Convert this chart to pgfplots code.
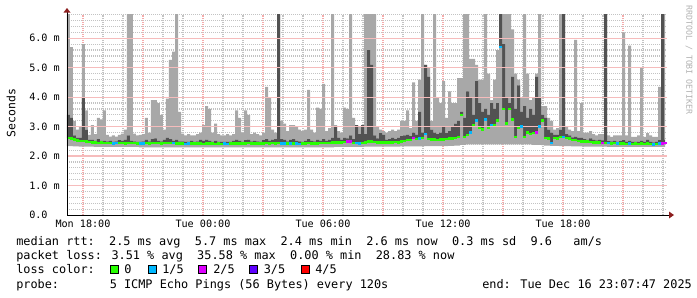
\documentclass[border=0pt]{standalone}
\usepackage{fontspec}
\setmainfont{DejaVu Sans Mono}
\usepackage{pgfplots}
\pgfplotsset{compat=1.18}
\usepackage{pgfplotstable}

\definecolor{mgrid}{RGB}{244,170,170}
\definecolor{hgrid}{RGB}{246,188,188}
\definecolor{ngrid}{RGB}{195,195,195}
\definecolor{smokeL}{RGB}{168,168,168}
\definecolor{smokeD}{RGB}{82,82,82}
\definecolor{lzero}{RGB}{38,255,0}
\definecolor{lone}{RGB}{0,184,255}
\definecolor{ltwo}{RGB}{221,0,255}
\definecolor{lthree}{RGB}{94,0,255}
\definecolor{lfour}{RGB}{255,0,0}
\definecolor{arr}{RGB}{140,30,30}
\newcommand\legfont{\fontsize{8.9}{10.8}\selectfont}
\newcommand\tickfont{\fontsize{7.6}{9}\selectfont}

\pgfplotstableread{
x lo dh hi md ls
17.20 2.34 3.40 6.90 2.62 0
17.35 2.34 3.30 5.70 2.60 0
17.50 2.33 2.70 3.20 2.56 0
17.65 2.33 2.62 2.90 2.53 0
17.80 2.32 2.62 3.00 2.52 0
17.95 2.32 4.00 5.80 2.52 0
18.10 2.32 2.90 3.55 2.49 0
18.25 2.32 2.55 2.72 2.48 0
18.40 2.32 2.55 3.05 2.47 0
18.55 2.31 2.52 2.75 2.46 0
18.70 2.31 2.58 3.30 2.45 0
18.85 2.31 2.52 3.25 2.46 0
19.00 2.31 2.52 3.55 2.44 0
19.15 2.31 2.50 2.72 2.45 0
19.30 2.31 2.52 2.66 2.44 0
19.45 2.31 2.49 2.70 2.43 1
19.60 2.31 2.50 2.66 2.44 1
19.75 2.31 2.54 2.72 2.45 0
19.90 2.31 2.52 2.76 2.44 0
20.05 2.31 2.55 2.90 2.43 0
20.20 2.31 2.70 6.90 2.44 0
20.35 2.31 2.52 6.90 2.45 0
20.50 2.31 2.50 2.76 2.44 0
20.65 2.31 2.49 2.70 2.43 0
20.80 2.30 2.49 2.72 2.42 1
20.95 2.30 2.50 2.75 2.43 1
21.10 2.30 2.55 3.30 2.44 0
21.25 2.30 2.50 2.80 2.43 0
21.40 2.30 2.58 3.90 2.44 0
21.55 2.30 2.60 3.90 2.45 0
21.70 2.30 2.52 3.80 2.44 0
21.85 2.30 2.50 3.40 2.43 0
22.00 2.30 2.55 2.90 2.44 0
22.15 2.30 2.62 3.95 2.45 0
22.30 2.30 2.58 5.27 2.44 0
22.45 2.30 2.52 5.55 2.44 1
22.60 2.30 2.55 6.90 2.43 0
22.75 2.30 2.50 3.50 2.42 0
22.90 2.30 2.50 2.76 2.43 0
23.05 2.30 2.48 2.70 2.41 1
23.20 2.30 2.49 2.75 2.42 1
23.35 2.30 2.52 2.70 2.43 0
23.50 2.30 2.49 2.70 2.42 0
23.65 2.30 2.50 2.75 2.43 0
23.80 2.30 2.55 2.80 2.42 0
23.95 2.30 2.52 3.05 2.41 0
24.10 2.30 2.56 3.70 2.42 0
24.25 2.30 2.52 3.60 2.43 0
24.40 2.30 2.49 2.80 2.42 0
24.55 2.30 2.52 3.10 2.41 0
24.70 2.30 2.49 2.75 2.42 0
24.85 2.30 2.48 2.70 2.41 0
25.00 2.30 2.49 2.70 2.42 1
25.15 2.30 2.48 2.75 2.41 1
25.30 2.30 2.49 2.70 2.42 0
25.45 2.30 2.52 2.75 2.43 0
25.60 2.30 2.56 3.55 2.42 0
25.75 2.30 2.52 3.30 2.43 0
25.90 2.30 2.49 2.80 2.42 0
26.05 2.30 2.54 3.55 2.43 0
26.20 2.30 2.56 3.40 2.44 0
26.35 2.30 2.50 2.75 2.43 0
26.50 2.30 2.52 2.80 2.42 0
26.65 2.30 2.50 2.75 2.43 0
26.80 2.30 2.49 2.70 2.42 0
26.95 2.30 2.54 2.80 2.43 0
27.10 2.30 2.58 4.35 2.44 0
27.25 2.30 2.52 4.00 2.43 0
27.40 2.30 2.56 2.90 2.44 0
27.55 2.30 2.58 2.80 2.43 0
27.70 2.30 6.90 6.90 2.44 0
27.85 2.30 2.58 3.20 2.43 1
28.00 2.30 2.55 3.10 2.42 1
28.15 2.30 2.50 2.85 2.43 0
28.30 2.30 2.55 3.05 2.42 1
28.45 2.30 2.58 3.05 2.43 0
28.60 2.30 2.52 3.00 2.42 1
28.75 2.30 2.50 2.90 2.41 1
28.90 2.30 2.49 2.85 2.42 0
29.05 2.30 2.52 2.90 2.43 0
29.20 2.30 2.58 4.25 2.44 0
29.35 2.30 2.52 2.90 2.43 0
29.50 2.30 2.50 2.80 2.42 0
29.65 2.30 2.55 3.65 2.43 0
29.80 2.30 2.52 3.60 2.44 0
29.95 2.30 2.58 4.45 2.45 0
30.10 2.30 2.52 2.85 2.44 0
30.25 2.30 2.56 2.95 2.45 0
30.40 2.30 2.62 6.90 2.46 0
30.55 2.31 3.00 3.05 2.47 0
30.70 2.31 2.62 2.85 2.46 0
30.85 2.31 2.56 2.80 2.47 0
31.00 2.31 2.62 3.65 2.48 0
31.15 2.31 2.60 3.60 2.50 2
31.30 2.31 2.70 6.90 2.49 2
31.45 2.31 2.58 3.30 2.45 0
31.60 2.31 3.05 3.05 2.44 1
31.75 2.31 2.75 3.00 2.43 1
31.90 2.31 3.05 3.05 2.45 0
32.05 2.32 2.75 6.90 2.47 0
32.20 2.32 5.60 6.90 2.49 0
32.35 2.32 5.10 6.90 2.50 0
32.50 2.32 2.70 6.90 2.48 0
32.65 2.32 2.60 3.00 2.47 0
32.80 2.32 2.78 2.90 2.46 0
32.95 2.32 2.72 2.85 2.47 0
33.10 2.32 2.56 2.80 2.46 0
33.25 2.32 2.58 2.85 2.47 0
33.40 2.32 2.62 2.90 2.46 0
33.55 2.32 2.58 2.85 2.48 0
33.70 2.32 2.62 2.90 2.47 0
33.85 2.33 2.68 3.20 2.50 0
34.00 2.33 2.70 3.20 2.52 0
34.15 2.33 2.72 3.55 2.54 0
34.30 2.33 2.68 2.95 2.55 0
34.45 2.33 2.80 4.50 2.62 2
34.60 2.33 2.72 3.20 2.58 0
34.75 2.33 3.50 4.60 2.60 1
34.90 2.33 2.80 6.90 2.62 0
35.05 2.34 5.10 5.10 2.75 1
35.20 2.34 4.70 5.00 2.58 0
35.35 2.34 2.90 3.20 2.56 0
35.50 2.34 2.80 6.90 2.57 0
35.65 2.34 2.75 4.00 2.55 0
35.80 2.34 2.80 3.80 2.56 0
35.95 2.34 3.00 4.55 2.57 0
36.10 2.34 2.78 3.30 2.58 0
36.25 2.35 2.85 4.20 2.60 0
36.40 2.35 3.00 3.80 2.59 0
36.55 2.36 3.10 3.80 2.62 0
36.70 2.36 3.20 4.65 2.65 0
36.85 2.38 3.50 4.65 3.40 0
37.00 2.38 3.30 6.90 2.65 0
37.15 2.40 4.20 6.90 2.72 0
37.30 2.40 4.00 5.30 2.80 1
37.45 2.40 3.40 5.30 3.05 0
37.60 2.40 4.55 5.10 3.20 1
37.75 2.40 3.80 4.60 2.95 0
37.90 2.40 3.50 4.60 2.90 0
38.05 2.40 3.60 6.90 3.25 1
38.20 2.40 3.40 4.80 2.95 0
38.35 2.40 3.80 3.90 3.05 1
38.50 2.40 3.60 4.60 3.05 0
38.65 2.40 3.80 5.60 3.20 0
38.80 2.40 6.90 6.90 5.70 1
38.95 2.40 5.80 6.90 3.60 0
39.10 2.40 4.00 6.90 3.10 0
39.25 2.40 3.80 6.90 3.60 0
39.40 2.40 4.70 6.30 3.25 0
39.55 2.40 3.60 4.80 2.65 0
39.70 2.40 4.40 4.60 2.95 0
39.85 2.40 3.50 4.00 3.00 1
40.00 2.40 3.70 6.90 2.65 0
40.15 2.40 3.30 4.80 2.80 0
40.30 2.40 3.60 3.90 2.75 0
40.45 2.38 3.40 4.00 2.78 0
40.60 2.38 4.70 4.80 2.80 2
40.75 2.38 4.00 6.90 3.00 1
40.90 2.37 3.40 3.70 3.20 0
41.05 2.36 3.30 3.70 2.62 0
41.20 2.36 2.90 3.30 2.60 0
41.35 2.35 2.80 3.20 2.45 1
41.50 2.35 2.72 2.90 2.62 0
41.65 2.35 2.72 2.95 2.60 0
41.80 2.34 2.90 6.90 2.65 0
41.95 2.34 6.90 6.90 2.65 1
42.10 2.34 2.75 3.00 2.62 0
42.25 2.34 2.70 2.90 2.60 0
42.40 2.33 2.64 2.85 2.55 0
42.55 2.33 2.66 5.95 2.55 0
42.70 2.33 2.62 2.85 2.52 0
42.85 2.33 2.62 3.80 2.50 0
43.00 2.32 2.58 2.80 2.50 0
43.15 2.32 2.56 2.80 2.49 0
43.30 2.32 2.60 2.85 2.48 0
43.45 2.32 2.55 2.75 2.47 0
43.60 2.32 2.53 2.70 2.46 0
43.75 2.32 2.55 2.75 2.46 0
43.90 2.32 2.53 2.75 2.45 2
44.05 2.32 6.90 6.90 2.45 0
44.20 2.31 2.51 2.70 2.44 1
44.35 2.31 2.50 2.65 2.43 0
44.50 2.31 2.52 2.70 2.44 0
44.65 2.31 2.49 2.70 2.42 1
44.80 2.31 2.51 2.70 2.43 0
44.95 2.31 2.54 6.20 2.42 0
45.10 2.31 2.48 2.70 2.41 0
45.25 2.31 2.52 5.75 2.42 1
45.40 2.31 2.48 2.65 2.41 0
45.55 2.31 2.49 2.65 2.42 0
45.70 2.31 2.48 2.70 2.41 0
45.85 2.31 2.52 5.00 2.42 0
46.00 2.31 2.48 2.65 2.41 0
46.15 2.31 2.55 2.78 2.42 0
46.30 2.31 2.49 2.70 2.41 0
46.45 2.31 2.47 2.65 2.40 1
46.60 2.31 2.48 2.65 2.41 0
46.75 2.31 2.54 4.35 2.42 1
46.90 2.31 6.90 6.90 2.43 2
47.05 2.31 2.55 6.90 2.45 2
47.10 2.31 2.55 6.90 2.45 9
}\ping

\begin{document}
\begin{tikzpicture}
\begin{scope}[x=0.75pt,y=-0.75pt]
\useasboundingbox (0,0) rectangle (697,297);
\end{scope}
\begin{axis}[
  at={(50.25pt,-161.25pt)}, anchor=south west,
  scale only axis, width=450pt, height=150.2pt,
  xmin=17.2, xmax=47.2, ymin=0, ymax=6.8,
  stack plots=y,
  axis line style={draw=none},
  xtick={18,21,...,45},
  xticklabels={Mon 18:00,,Tue 00:00,,Tue 06:00,,Tue 12:00,,Tue 18:00,},
  minor xtick={19,20,22,23,25,26,28,29,31,32,34,35,37,38,40,41,43,44,46,47},
  ytick={0,1,2,3,4,5,6},
  yticklabels={0.0,1.0 m,2.0 m,3.0 m,4.0 m,5.0 m,6.0 m},
  minor ytick={0.2,0.4,0.6,0.8,1.2,1.4,1.6,1.8,2.2,2.4,2.6,2.8,3.2,3.4,3.6,3.8,4.2,4.4,4.6,4.8,5.2,5.4,5.6,5.8,6.2,6.4,6.6,6.8},
  major tick length=0pt, minor tick length=0pt,
  xmajorgrids, xminorgrids, yminorgrids,
  major grid style={mgrid, line width=0.9pt, dash pattern=on 0.75pt off 0.75pt},
  minor grid style={ngrid, line width=0.9pt, dash pattern=on 0.75pt off 0.75pt},
  xticklabel style={font=\tickfont, anchor=north, inner sep=0pt, yshift=-3.9pt},
  yticklabel style={font=\tickfont, anchor=west, inner sep=0pt, xshift=-28.5pt},
  /pgf/number format/assume math mode=true,
]
\pgfplotsinvokeforeach{1,2,3,4,5,6}{
  \draw[hgrid, line width=1pt] (axis cs:17.2,#1) -- (axis cs:47.2,#1);
}
\addplot[const plot, draw=none, fill=none] table[x=x,y=lo]{\ping} \closedcycle;
\addplot[const plot, draw=none, fill=smokeL] table[x=x,y expr=\thisrow{md}-\thisrow{lo}]{\ping} \closedcycle;
\addplot[const plot, draw=none, fill=smokeD] table[x=x,y expr=\thisrow{dh}-\thisrow{md}]{\ping} \closedcycle;
\addplot[const plot, draw=none, fill=smokeL] table[x=x,y expr=\thisrow{hi}-\thisrow{dh}]{\ping} \closedcycle;
\end{axis}
\begin{axis}[
  at={(50.25pt,-161.25pt)}, anchor=south west,
  scale only axis, width=450pt, height=150.2pt,
  xmin=17.2, xmax=47.2, ymin=0, ymax=6.8,
  hide axis,
]
\addplot[only marks, mark=-, mark size=1.125pt, mark options={draw=lzero, line width=1.9pt},
  restrict expr to domain={\thisrow{ls}}{-0.5:0.5}] table[x expr=\thisrow{x}+0.075, y=md]{\ping};
\addplot[only marks, mark=-, mark size=1.125pt, mark options={draw=lone, line width=1.9pt},
  restrict expr to domain={\thisrow{ls}}{0.5:1.5}] table[x expr=\thisrow{x}+0.075, y=md]{\ping};
\addplot[only marks, mark=-, mark size=1.125pt, mark options={draw=ltwo, line width=1.9pt},
  restrict expr to domain={\thisrow{ls}}{1.5:2.5}] table[x expr=\thisrow{x}+0.075, y=md]{\ping};
\end{axis}
\begin{scope}[x=0.75pt,y=-0.75pt]
% axes
\draw[black, line width=0.75pt] (67,215) -- (67,12);
\draw[black, line width=0.75pt] (67,215) -- (670,215);
\fill[arr] (63.5,12.5) -- (70.5,12.5) -- (67,8) -- cycle;
\fill[arr] (669,211.5) -- (669,218.5) -- (674,215) -- cycle;
% labels
\node[rotate=90, inner sep=0pt, font=\fontsize{8.6}{10}\selectfont] at (11,113) {Seconds};
\node[rotate=-90, anchor=west, inner sep=0pt, text=gray!60, font=\fontsize{6.2}{7}\selectfont] at (689,5) {RRDTOOL / TOBI OETIKER};
% legend
\node[anchor=base west, inner sep=0pt, font=\legfont] at (16,245) {median rtt:~~2.5 ms avg~~5.7 ms max~~2.4 ms min~~2.6 ms now~~0.3 ms sd~~9.6~~~am/s};
\node[anchor=base west, inner sep=0pt, font=\legfont] at (16,259.5) {packet loss: 3.51 \% avg~~35.58 \% max~~0.00 \% min~~28.83 \% now};
\node[anchor=base west, inner sep=0pt, font=\legfont] at (16,273.5) {loss color:};
\filldraw[fill=lzero, draw=black, line width=0.75pt] (110,265) rectangle (118,273);
\node[anchor=base west, inner sep=0pt, font=\legfont] at (124,273.5) {0};
\filldraw[fill=lone, draw=black, line width=0.75pt] (148,265) rectangle (156,273);
\node[anchor=base west, inner sep=0pt, font=\legfont] at (162,273.5) {1/5};
\filldraw[fill=ltwo, draw=black, line width=0.75pt] (198.5,265) rectangle (206.5,273);
\node[anchor=base west, inner sep=0pt, font=\legfont] at (213,273.5) {2/5};
\filldraw[fill=lthree, draw=black, line width=0.75pt] (249.5,265) rectangle (257.5,273);
\node[anchor=base west, inner sep=0pt, font=\legfont] at (263.5,273.5) {3/5};
\filldraw[fill=lfour, draw=black, line width=0.75pt] (301,265) rectangle (309,273);
\node[anchor=base west, inner sep=0pt, font=\legfont] at (315,273.5) {4/5};
\node[anchor=base west, inner sep=0pt, font=\legfont] at (16,288) {probe:};
\node[anchor=base west, inner sep=0pt, font=\legfont] at (109.5,288) {5 ICMP Echo Pings (56 Bytes) every 120s};
\node[anchor=base west, inner sep=0pt, font=\legfont] at (482,288) {end: Tue Dec 16 23:07:47 2025};
\end{scope}
\end{tikzpicture}
\end{document}
